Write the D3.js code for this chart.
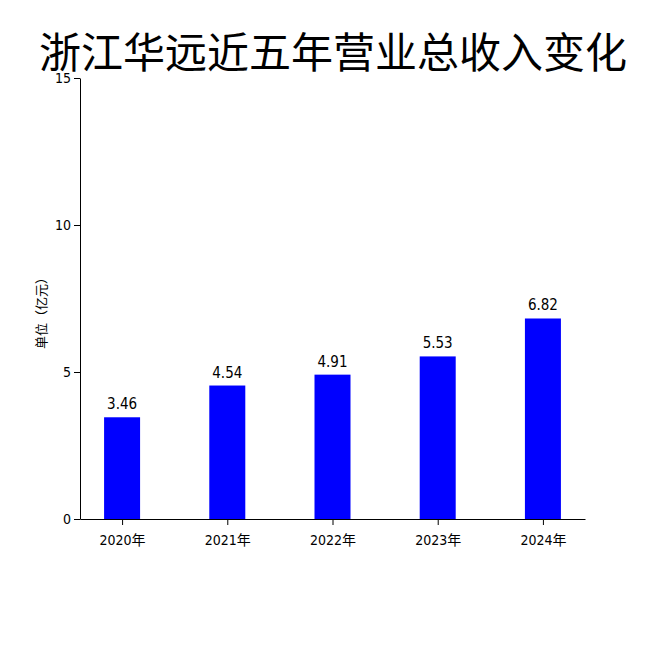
<!DOCTYPE html>
<html>
<head>
<meta charset="utf-8">
<script src="https://cdn.jsdelivr.net/npm/d3@7"></script>
<style>
  body { margin: 0; background: #fff; }
  text { font-family: "DejaVu Sans Condensed", "Noto Sans CJK SC", sans-serif; }
</style>
</head>
<body>
<svg id="chart" width="650" height="650"></svg>
<script>
const years = ['2020年', '2021年', '2022年', '2023年', '2024年'];
const revenue = [3.46, 4.54, 4.91, 5.53, 6.82];
const yTicks = [0, 5, 10, 15];

const svg = d3.select('#chart');
const plotLeft = 80, plotRight = 585, plotTop = 78, plotBottom = 519;
const barWidth = 36;

const x = d3.scalePoint().domain(years).range([plotLeft, plotRight]).padding(0.4);
const y = d3.scaleLinear().domain([0, 15]).range([plotBottom, plotTop]);

// Title
svg.append('text')
    .attr('x', 333).attr('y', 68)
    .attr('text-anchor', 'middle')
    .style('font-family', '"Noto Sans CJK SC", sans-serif')
    .style('font-size', '42px')
    .text('浙江华远近五年营业总收入变化');

// Bars
svg.selectAll('rect.bar')
    .data(revenue)
    .enter()
    .append('rect')
    .attr('class', 'bar')
    .attr('x', (d, i) => x(years[i]) - barWidth / 2)
    .attr('y', d => y(d))
    .attr('width', barWidth)
    .attr('height', d => plotBottom - y(d))
    .style('fill', '#0000ff');

// Value labels
svg.selectAll('text.value')
    .data(revenue)
    .enter()
    .append('text')
    .attr('class', 'value')
    .attr('x', (d, i) => x(years[i]))
    .attr('y', d => y(d) - 8)
    .attr('text-anchor', 'middle')
    .style('font-size', '15px')
    .text(d => d.toFixed(2));

// Axes
const xAxis = svg.append('g')
    .attr('transform', `translate(0, ${plotBottom})`)
    .call(d3.axisBottom(x).tickSizeOuter(0));
const yAxis = svg.append('g')
    .attr('transform', `translate(${plotLeft}, 0)`)
    .call(d3.axisLeft(y).tickValues(yTicks).tickSizeOuter(0));

[xAxis, yAxis].forEach(g => {
    g.selectAll('text').style('font-size', '14px').style('fill', '#000');
    g.selectAll('line, path').style('stroke', '#000');
});
xAxis.selectAll('text').attr('dy', '1.2em');

// Y label
svg.append('text')
    .attr('transform', 'translate(46, 310) rotate(-90)')
    .attr('text-anchor', 'middle')
    .style('font-family', '"Noto Sans CJK SC", sans-serif')
    .style('font-size', '13px')
    .text('单位（亿元）');
</script>
</body>
</html>
